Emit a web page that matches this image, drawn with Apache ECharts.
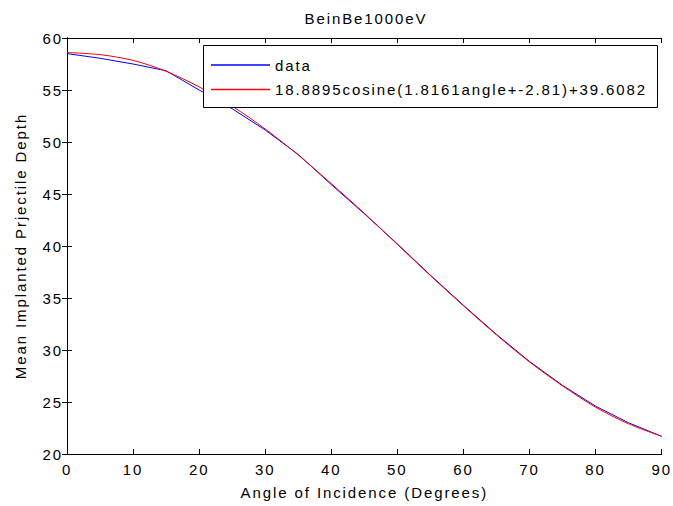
<!DOCTYPE html>
<html>
<head>
<meta charset="utf-8">
<script src="https://cdn.jsdelivr.net/npm/echarts@6/dist/echarts.min.js"></script>
<style>
  html, body { margin: 0; padding: 0; background: #fff; }
  #chart { width: 673px; height: 506px; }
  #chart text { letter-spacing: 1.9px; }
</style>
</head>
<body>
<div id="chart"></div>
<script>
// ---- data ----
var angles = [0, 5, 10, 15, 20, 25, 30, 35, 40, 45, 50, 55, 60, 65, 70, 75, 80, 85, 90];
var dataDepth = [58.5, 58.05, 57.5, 56.85, 55.0, 53.2, 51.15, 48.8, 45.9, 43.1, 40.2, 37.2, 34.3, 31.5, 28.9, 26.6, 24.6, 23.0, 21.7];
var fitDepth = [58.6, 58.4, 57.85, 56.8, 55.3, 53.45, 51.25, 48.75, 46.0, 43.15, 40.15, 37.15, 34.25, 31.45, 28.85, 26.55, 24.5, 22.9, 21.7];
var seriesNames = ['data', '18.8895cosine(1.8161angle+-2.81)+39.6082'];
var titleText = 'BeinBe1000eV';
var xAxisTitle = 'Angle of Incidence (Degrees)';
var yAxisTitle = 'Mean Implanted Prjectile Depth';
var xTicks = { min: 0, max: 90, interval: 10 };
var yTicks = { min: 20, max: 60, interval: 5 };

function pairs(xs, ys) { return xs.map(function (x, i) { return [x, ys[i]]; }); }

var FONT = 'Liberation Sans';
var chart = echarts.init(document.getElementById('chart'), null, { renderer: 'svg' });

var axisCommon = {
  type: 'value',
  axisLine: { show: true, lineStyle: { color: '#000', width: 1 } },
  axisTick: { show: true, inside: true, length: 5, lineStyle: { color: '#000' } },
  splitLine: { show: false }
};

var option = {
  animation: false,
  backgroundColor: '#fff',
  grid: { left: 67, right: 8, top: 38, bottom: 52 },
  graphic: [
    { type: 'text', x: 366, y: 18, z: 30,
      style: { text: titleText, font: '15px "' + FONT + '"', fill: '#000', textAlign: 'center', textVerticalAlign: 'middle' } },
    { type: 'rect', z: 10, shape: { x: 203.5, y: 45.5, width: 454, height: 62 },
      style: { fill: '#fff', stroke: '#000', lineWidth: 1 } }
  ],
  legend: {
    z: 20,
    orient: 'vertical',
    left: 211, top: 57.5,
    padding: 0,
    icon: 'rect',
    itemWidth: 59, itemHeight: 1.5, itemGap: 9.5,
    data: seriesNames,
    textStyle: { fontFamily: FONT, fontSize: 15, color: '#000' }
  },
  xAxis: [
    Object.assign({}, axisCommon, {
      min: xTicks.min, max: xTicks.max, interval: xTicks.interval, position: 'bottom',
      name: xAxisTitle, nameLocation: 'middle', nameGap: 31,
      nameTextStyle: { fontFamily: FONT, fontSize: 15, color: '#000' },
      axisLabel: { fontFamily: FONT, fontSize: 15, color: '#000', margin: 8 }
    }),
    Object.assign({}, axisCommon, {
      min: xTicks.min, max: xTicks.max, interval: xTicks.interval, position: 'top',
      axisLabel: { show: false }
    })
  ],
  yAxis: [
    Object.assign({}, axisCommon, {
      min: yTicks.min, max: yTicks.max, interval: yTicks.interval, position: 'left',
      name: yAxisTitle, nameLocation: 'middle', nameGap: 39,
      nameTextStyle: { fontFamily: FONT, fontSize: 15, color: '#000' },
      axisLabel: { fontFamily: FONT, fontSize: 15, color: '#000', margin: 4 }
    }),
    Object.assign({}, axisCommon, {
      min: yTicks.min, max: yTicks.max, interval: yTicks.interval, position: 'right',
      axisLabel: { show: false }
    })
  ],
  series: [
    { name: seriesNames[0], type: 'line', xAxisIndex: 0, yAxisIndex: 0,
      data: pairs(angles, dataDepth), symbol: 'none', showSymbol: false,
      lineStyle: { color: '#0000ff', width: 1 }, itemStyle: { color: '#0000ff' } },
    { name: seriesNames[1], type: 'line', xAxisIndex: 0, yAxisIndex: 0,
      data: pairs(angles, fitDepth), symbol: 'none', showSymbol: false, smooth: 0.3,
      lineStyle: { color: '#ff0000', width: 1 }, itemStyle: { color: '#ff0000' } }
  ]
};
chart.setOption(option);
</script>
</body>
</html>
